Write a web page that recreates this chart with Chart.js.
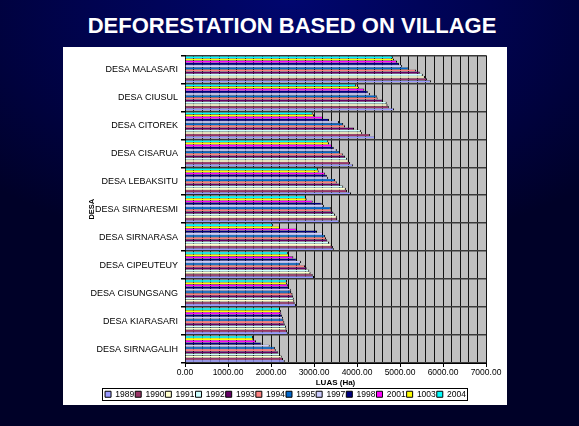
<!DOCTYPE html>
<html>
<head>
  <meta charset="utf-8">
  <title>Deforestation Based On Village</title>
  <script src="https://cdn.jsdelivr.net/npm/chart.js"></script>
  <style>
    body {
      margin: 0;
      width: 579px;
      height: 426px;
      overflow: hidden;
      background: radial-gradient(ellipse 75% 60% at 50% 0%, #00066e 0%, #000350 45%, #000128 100%);
      font-family: "Liberation Sans", Arial, sans-serif;
    }
    #title {
      position: absolute;
      left: 0;
      width: 584px;
      top: 13px;
      text-align: center;
      color: #ffffff;
      font-weight: bold;
      font-size: 22px;
    }
    #panel {
      position: absolute;
      left: 63px;
      top: 47px;
      width: 444px;
      height: 358px;
      background: #ffffff;
    }
  </style>
</head>
<body>
  <div id="title">DEFORESTATION BASED ON VILLAGE</div>
  <div id="panel"><canvas id="chart"></canvas></div>
  <script>
    // categories listed top -> bottom as they appear
    const villages = ['DESA MALASARI', 'DESA CIUSUL', 'DESA CITOREK', 'DESA CISARUA', 'DESA LEBAKSITU',
      'DESA SIRNARESMI', 'DESA SIRNARASA', 'DESA CIPEUTEUY', 'DESA CISUNGSANG', 'DESA KIARASARI', 'DESA SIRNAGALIH'];

    const y1989 = [5720, 4860, 4420, 3910, 3860, 3590, 3460, 3000, 2580, 2390, 2320];
    const y1990 = [5630, 4740, 4300, 3840, 3770, 3540, 3440, 2970, 2550, 2370, 2280];
    const y1991 = [5580, 4710, 4120, 3810, 3740, 3530, 3410, 2920, 2540, 2360, 2250];
    const y1992 = [5530, 4690, 4090, 3770, 3680, 3490, 3350, 2890, 2530, 2350, 2210];
    const y1993 = [5460, 4600, 3930, 3720, 3600, 3450, 3310, 2830, 2510, 2320, 2170];
    const y1994 = [5370, 4480, 3720, 3670, 3530, 3410, 3280, 2790, 2500, 2310, 2110];
    const y1995 = [5200, 4460, 3680, 3600, 3490, 3390, 3260, 2670, 2470, 2290, 2090];
    const y1997 = [5050, 4300, 3580, 3530, 3330, 3230, 3210, 2700, 2460, 2280, 1970];
    const y1998 = [4980, 4250, 3350, 3460, 3300, 3180, 3070, 2600, 2420, 2260, 1780];
    const y2001 = [4930, 4170, 3210, 3420, 3260, 2970, 2600, 2520, 2400, 2240, 1650];
    const y1003 = [4860, 4050, 3000, 3350, 3110, 2830, 2210, 2420, 2370, 2230, 1590];
    const y2004 = [4840, 3980, 2970, 3330, 3090, 2810, 2050, 2400, 2370, 2210, 1580];

    const years = ['1989', '1990', '1991', '1992', '1993', '1994', '1995', '1997', '1998', '2001', '1003', '2004'];
    const values = [y1989, y1990, y1991, y1992, y1993, y1994, y1995, y1997, y1998, y2001, y1003, y2004];
    const colors = ['#9999FF', '#993366', '#FFFFCC', '#CCFFFF', '#660066', '#FF8080',
      '#0066CC', '#CCCCFF', '#000080', '#FF00FF', '#FFFF00', '#00FFFF'];

    const xMax = 7000;
    const xStep = 200;

    // excel puts the first series at the bottom of each group, so feed them in reverse
    const datasets = years.map((yr, i) => ({
      label: yr,
      data: values[i],
      backgroundColor: colors[i],
      borderColor: '#000000',
      borderWidth: { top: 0.3, right: 1, bottom: 0.3, left: 0 },
      borderSkipped: false,
      categoryPercentage: 0.94,
      barPercentage: 1.0
    })).reverse();

    const plotBg = {
      id: 'plotBg',
      beforeDraw(chart) {
        const a = chart.chartArea;
        const ctx = chart.ctx;
        ctx.save();
        ctx.fillStyle = '#C0C0C0';
        ctx.fillRect(a.left, a.top, a.right - a.left, a.bottom - a.top);
        ctx.restore();
      },
      afterDraw(chart) {
        // frame around the legend, like the excel one
        const boxes = chart.legend.legendHitBoxes;
        if (!boxes || !boxes.length) return;
        let l = Infinity, r = -Infinity, t = Infinity, b = -Infinity;
        boxes.forEach(h => {
          l = Math.min(l, h.left); r = Math.max(r, h.left + h.width);
          t = Math.min(t, h.top); b = Math.max(b, h.top + h.height);
        });
        const ctx = chart.ctx;
        ctx.save();
        ctx.strokeStyle = '#000000';
        ctx.lineWidth = 1;
        ctx.strokeRect(Math.round(l - 3) + 0.5, Math.round(t - 2) + 0.5, Math.round(r - l + 4), Math.round(b - t + 3));
        ctx.restore();
      }
    };

    const ctx = document.getElementById('chart').getContext('2d');
    new Chart(ctx, {
      type: 'bar',
      data: { labels: villages, datasets: datasets },
      plugins: [plotBg],
      options: {
        indexAxis: 'y',
        responsive: true,
        maintainAspectRatio: false,
        animation: false,
        layout: { padding: { left: 22, right: 21, top: 5, bottom: 2 } },
        plugins: {
          tooltip: { enabled: false },
          legend: {
            position: 'bottom',
            reverse: true,
            maxHeight: 14,
            labels: {
              color: '#000000',
              font: { size: 8.5, family: 'Liberation Sans' },
              boxWidth: 6,
              boxHeight: 6,
              padding: 1,
              generateLabels(chart) {
                const items = Chart.defaults.plugins.legend.labels.generateLabels(chart);
                items.forEach(it => { it.lineWidth = 1; it.strokeStyle = '#000000'; });
                return items;
              }
            }
          }
        },
        scales: {
          x: {
            min: 0,
            max: xMax,
            afterFit(scale) { scale.height = 26; },
            ticks: {
              stepSize: xStep,
              autoSkip: false,
              maxRotation: 0,
              padding: 1,
              color: '#000000',
              font: { size: 8.5, family: 'Liberation Sans' },
              callback: v => (v % 1000 === 0 ? v.toFixed(2) : '')
            },
            grid: {
              color: '#111111',
              lineWidth: 1,
              tickLength: 4,
              tickColor: c => (c.tick && c.tick.value % 1000 === 0 ? '#000000' : 'rgba(0,0,0,0)')
            },
            border: { color: '#000000', width: 1 },
            title: {
              display: true,
              text: 'LUAS (Ha)',
              color: '#000000',
              font: { size: 8, weight: 'bold', family: 'Liberation Sans' },
              padding: { top: 0, bottom: 1 }
            }
          },
          y: {
            afterFit(scale) { scale.width = 100; },
            ticks: {
              color: '#000000',
              padding: 3,
              font: { size: 9, family: 'Liberation Sans' }
            },
            grid: {
              color: '#3a3a3a',
              lineWidth: 1.5,
              tickLength: 4,
              tickColor: '#000000'
            },
            border: { color: '#000000', width: 1 },
            title: {
              display: true,
              text: 'DESA',
              color: '#000000',
              font: { size: 7.5, weight: 'bold', family: 'Liberation Sans' },
              padding: { top: 2, bottom: 0 }
            }
          }
        }
      }
    });
  </script>
</body>
</html>
